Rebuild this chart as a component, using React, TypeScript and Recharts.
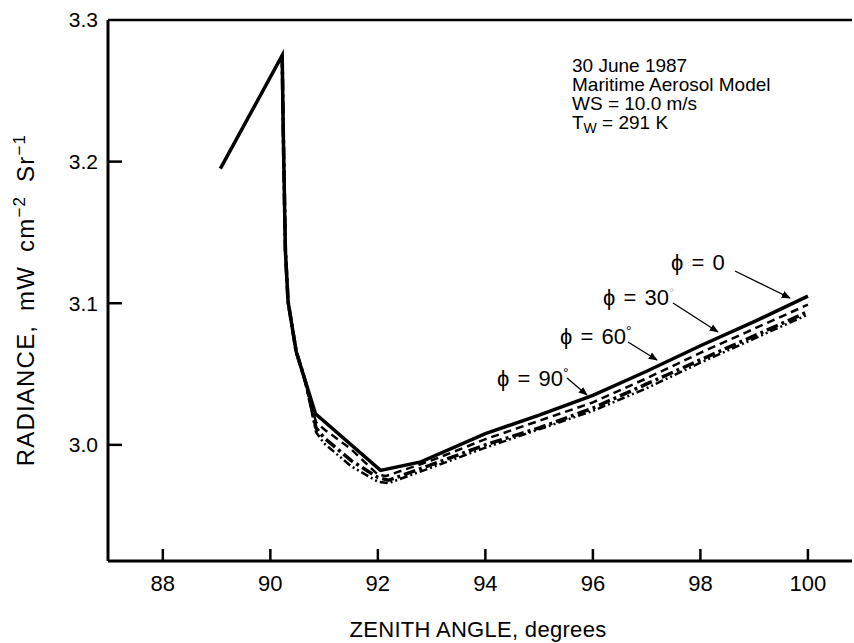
import React from 'react';
import { LineChart, Line, XAxis, YAxis, ReferenceLine } from 'recharts';

const xTicks = [88, 90, 92, 94, 96, 98, 100];
const yTicks = [3.0, 3.1, 3.2, 3.3];

const phi0 = [
  { x: 89.07, y: 3.195 },
  { x: 90.22, y: 3.275 },
  { x: 90.24, y: 3.222 },
  { x: 90.28, y: 3.137 },
  { x: 90.33, y: 3.101 },
  { x: 90.48, y: 3.066 },
  { x: 90.65, y: 3.045 },
  { x: 90.84, y: 3.022 },
  { x: 92.05, y: 2.982 },
  { x: 92.8, y: 2.988 },
  { x: 94, y: 3.008 },
  { x: 95, y: 3.021 },
  { x: 96, y: 3.035 },
  { x: 97, y: 3.052 },
  { x: 98, y: 3.07 },
  { x: 99, y: 3.087 },
  { x: 100, y: 3.105 },
];

const phi30 = [
  { x: 90.22, y: 3.275 },
  { x: 90.24, y: 3.222 },
  { x: 90.28, y: 3.137 },
  { x: 90.33, y: 3.101 },
  { x: 90.48, y: 3.066 },
  { x: 90.65, y: 3.045 },
  { x: 90.85, y: 3.016 },
  { x: 91, y: 3.011 },
  { x: 91.5, y: 2.997 },
  { x: 92, y: 2.979 },
  { x: 92.15, y: 2.978 },
  { x: 93, y: 2.989 },
  { x: 94, y: 3.004 },
  { x: 95, y: 3.017 },
  { x: 96, y: 3.03 },
  { x: 97, y: 3.047 },
  { x: 98, y: 3.065 },
  { x: 99, y: 3.082 },
  { x: 100, y: 3.099 },
];

const phi60 = [
  { x: 90.22, y: 3.275 },
  { x: 90.24, y: 3.222 },
  { x: 90.28, y: 3.137 },
  { x: 90.33, y: 3.101 },
  { x: 90.48, y: 3.066 },
  { x: 90.65, y: 3.045 },
  { x: 90.85, y: 3.012 },
  { x: 91, y: 3.005 },
  { x: 91.5, y: 2.989 },
  { x: 92, y: 2.977 },
  { x: 92.2, y: 2.975 },
  { x: 93, y: 2.986 },
  { x: 94, y: 3.0 },
  { x: 95, y: 3.012 },
  { x: 96, y: 3.026 },
  { x: 97, y: 3.043 },
  { x: 98, y: 3.06 },
  { x: 99, y: 3.077 },
  { x: 100, y: 3.094 },
];

const phi90 = [
  { x: 90.22, y: 3.275 },
  { x: 90.24, y: 3.222 },
  { x: 90.28, y: 3.137 },
  { x: 90.33, y: 3.101 },
  { x: 90.48, y: 3.066 },
  { x: 90.65, y: 3.045 },
  { x: 90.85, y: 3.009 },
  { x: 91, y: 3.001 },
  { x: 91.5, y: 2.985 },
  { x: 92, y: 2.974 },
  { x: 92.2, y: 2.973 },
  { x: 93, y: 2.984 },
  { x: 94, y: 2.998 },
  { x: 95, y: 3.011 },
  { x: 96, y: 3.024 },
  { x: 97, y: 3.04 },
  { x: 98, y: 3.058 },
  { x: 99, y: 3.075 },
  { x: 100, y: 3.092 },
];

const FONT = '"Liberation Sans", Arial, Helvetica, sans-serif';
const Y_MARGIN = 10;
const X_MARGIN = 14;

const YTick = (props: any) => {
  const { x, y, payload } = props;
  const v = payload.value as number;
  const ax = x + Y_MARGIN;
  return (
    <g>
      {v < 3.25 && (
        <line x1={ax} x2={ax + 14} y1={y} y2={y} stroke="#000" strokeWidth={2.5} />
      )}
      <text x={x} y={y} dy="0.35em" textAnchor="end" fontFamily={FONT} fontSize={21} fill="#000">
        {v.toFixed(1)}
      </text>
    </g>
  );
};

const XTick = (props: any) => {
  const { x, y, payload } = props;
  const ay = y - X_MARGIN;
  return (
    <g>
      <line x1={x} x2={x} y1={ay} y2={ay - 12} stroke="#000" strokeWidth={2.5} />
      <text x={x} y={y} dy="0.71em" textAnchor="middle" fontFamily={FONT} fontSize={22} fill="#000">
        {String(payload.value)}
      </text>
    </g>
  );
};

export default function App() {
  return (
    <div style={{ position: 'absolute', left: 0, top: 0, width: 854, height: 643, background: '#fff' }}>
      <LineChart
        width={854}
        height={643}
        margin={{ top: 20, right: 2, bottom: 32, left: 48 }}
      >
        <XAxis
          type="number"
          dataKey="x"
          domain={[86.98, 100.82]}
          ticks={xTicks}
          allowDataOverflow
          height={50}
          tickSize={0}
          tickMargin={X_MARGIN}
          tickLine={false}
          axisLine={{ stroke: '#000', strokeWidth: 3 }}
          tick={<XTick />}
          interval={0}
        />
        <YAxis
          type="number"
          dataKey="y"
          domain={[2.918, 3.3]}
          ticks={yTicks}
          allowDataOverflow
          width={60}
          tickSize={0}
          tickMargin={Y_MARGIN}
          tickLine={false}
          axisLine={{ stroke: '#000', strokeWidth: 3 }}
          tick={<YTick />}
          interval={0}
        />
        <ReferenceLine y={3.3} stroke="#000" strokeWidth={2.5} />
        <Line data={phi90} dataKey="y" type="linear" stroke="#000" strokeWidth={2.5}
          strokeDasharray="8 3 2 3 2 3" dot={false} isAnimationActive={false} />
        <Line data={phi60} dataKey="y" type="linear" stroke="#000" strokeWidth={3.5}
          strokeDasharray="12 4 3 4" dot={false} isAnimationActive={false} />
        <Line data={phi30} dataKey="y" type="linear" stroke="#000" strokeWidth={2.5}
          strokeDasharray="8 5" dot={false} isAnimationActive={false} />
        <Line data={phi0} dataKey="y" type="linear" stroke="#000" strokeWidth={3.5}
          dot={false} isAnimationActive={false} />
      </LineChart>
      <svg
        width={854}
        height={643}
        style={{ position: 'absolute', left: 0, top: 0, pointerEvents: 'none' }}
        fontFamily={FONT}
      >
        <defs>
          <marker id="arr" viewBox="0 0 10 10" refX="9" refY="5" markerWidth="7" markerHeight="7" orient="auto">
            <path d="M0,1 L10,5 L0,9 z" fill="#000" />
          </marker>
        </defs>
        <text
          transform="translate(34,300) rotate(-90)"
          textAnchor="middle"
          fontSize={24}
          letterSpacing={1.2}
          wordSpacing={6}
          fill="#000"
        >
          RADIANCE, mW cm<tspan dy={-9} fontSize={17}>−2</tspan>
          <tspan dy={9}> Sr</tspan>
          <tspan dy={-9} fontSize={17}>−1</tspan>
        </text>
        <text x={478} y={637} textAnchor="middle" fontSize={22} letterSpacing={0.3} fill="#000">
          ZENITH ANGLE, degrees
        </text>
        <g fontSize={19} fill="#000">
          <text x={572} y={72}>30 June 1987</text>
          <text x={572} y={91}>Maritime Aerosol Model</text>
          <text x={572} y={110}>WS = 10.0 m/s</text>
          <text x={572} y={129}>
            T<tspan dy={4} fontSize={14}>W</tspan>
            <tspan dy={-4}> = 291 K</tspan>
          </text>
        </g>
        <g fontSize={22} wordSpacing={2} fill="#000">
          <text x={671} y={270}>ϕ = 0</text>
          <text x={603} y={305}>ϕ = 30<tspan fill="#bbb" fontSize={13} dy={-8}>°</tspan></text>
          <text x={560} y={344}>ϕ = 60<tspan fontSize={14} dy={-8}>°</tspan></text>
          <text x={497} y={386}>ϕ = 90<tspan fontSize={14} dy={-8}>°</tspan></text>
        </g>
        <g stroke="#000" strokeWidth={1.3}>
          <line x1={735} y1={271} x2={790} y2={298} markerEnd="url(#arr)" />
          <line x1={673} y1={303} x2={718} y2={332} markerEnd="url(#arr)" />
          <line x1={628} y1={342} x2={657} y2={360} markerEnd="url(#arr)" />
          <line x1={567} y1={378} x2={587} y2={395} markerEnd="url(#arr)" />
        </g>
      </svg>
    </div>
  );
}
